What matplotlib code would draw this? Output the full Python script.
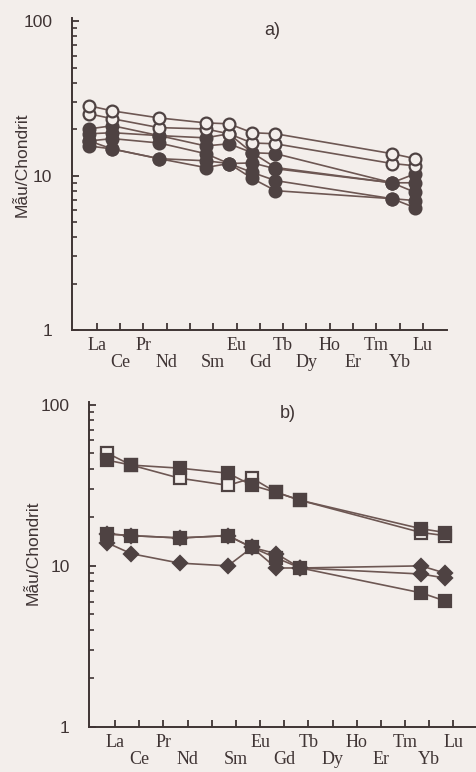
import numpy as np
import matplotlib
matplotlib.use("Agg")
import matplotlib.pyplot as plt
from matplotlib.ticker import NullFormatter, FixedLocator

# REE order (Pm kept as an unlabeled slot)
elements = ['La', 'Ce', 'Pr', 'Nd', 'Pm', 'Sm', 'Eu', 'Gd', 'Tb', 'Dy', 'Ho', 'Er', 'Tm', 'Yb', 'Lu']
measured = ['La', 'Ce', 'Nd', 'Sm', 'Eu', 'Gd', 'Tb', 'Yb', 'Lu']

# a) samples normalised to chondrite
a_open1 = [28.4, 26.3, 23.7, 22.0, 21.7, 19.0, 18.7, 13.9, 12.9]
a_open2 = [25.2, 23.4, 20.5, 20.1, 18.7, 16.3, 16.1, 12.0, 11.6]
a_fill1 = [20.1, 21.1, 18.2, 17.6, 18.7, 14.1, 13.9, 9.0, 10.3]
a_fill2 = [18.7, 19.0, 18.2, 15.6, 16.1, 14.1, 11.3, 9.0, 9.0]
a_fill3 = [16.8, 17.4, 16.3, 13.9, 12.0, 12.1, 11.1, 9.0, 7.8]
a_fill4 = [15.6, 14.9, 12.9, 12.5, 12.0, 10.5, 9.3, 7.1, 6.9]
a_fill5 = [16.8, 14.9, 12.9, 11.3, 12.0, 9.6, 8.0, 7.1, 6.2]

# b) samples normalised to chondrite
b_open = [50.1, 42.2, 35.0, 31.6, 35.0, 28.6, 25.5, 16.1, 15.4]
b_sq1 = [45.3, 42.2, 40.4, 37.6, 31.6, 28.6, 25.5, 17.0, 16.1]
b_dia2 = [15.8, 15.4, 14.9, 15.4, 13.0, 11.9, 9.7, 10.0, 9.0]
b_sq2 = [15.8, 15.4, 14.9, 15.4, 13.0, 11.2, 9.7, 6.8, 6.05]
b_dia1 = [13.9, 11.9, 10.4, 10.0, 13.0, 9.7, 9.7, 8.9, 8.4]

paper = '#f3eeeb'
ink = '#3f3434'
mk = '#4e4242'
ln = '#6d5753'

xpos = np.array([elements.index(e) for e in measured]) - 0.33

plt.rcParams['font.family'] = ['Liberation Sans', 'DejaVu Sans']

fig = plt.figure(figsize=(4.76, 7.72), dpi=100, facecolor=paper)
ax1 = fig.add_axes([0.151, 0.5725, 0.788, 0.404])
ax2 = fig.add_axes([0.187, 0.0583, 0.813, 0.421])


def style(ax, xlim, ylim):
    ax.set_facecolor(paper)
    ax.set_yscale('log')
    ax.set_xlim(*xlim)
    ax.set_ylim(*ylim)
    for s in ['top', 'right']:
        ax.spines[s].set_visible(False)
    for s in ['left', 'bottom']:
        ax.spines[s].set_linewidth(1.4)
        ax.spines[s].set_color(ink)
    ax.set_yticks([1, 10, 100])
    ax.set_yticklabels(['1', '10', '100'])
    ax.yaxis.set_minor_formatter(NullFormatter())
    ax.tick_params(axis='y', which='major', direction='in', length=5, width=1.3,
                   colors=ink, labelsize=12.5, pad=14)
    ax.tick_params(axis='y', which='minor', direction='in', length=3.5, width=1.2, colors=ink)
    ax.xaxis.set_major_locator(FixedLocator(range(len(elements))))
    labs = []
    for i, e in enumerate(elements):
        if e == 'Pm':
            labs.append('')
        elif i % 2 == 0:
            labs.append(e + '\n ')
        else:
            labs.append(' \n' + e)
    ax.set_xticklabels(labs)
    ax.tick_params(axis='x', direction='in', length=5, width=1.3, colors=ink,
                   labelsize=13, pad=5)
    for t in ax.get_xticklabels():
        t.set_family(['Liberation Serif', 'DejaVu Serif'])
        t.set_linespacing(1.0)
    ax.set_ylabel('Mẫu/Chondrit', fontsize=12.5, color=ink)


style(ax1, (-1.07, 15.03), (1, 105))
style(ax2, (-1.08, 14.94), (1, 104))
ax1.yaxis.set_label_coords(-0.112, 0.53)
ax2.yaxis.set_label_coords(-0.124, 0.535)

kw = dict(color=ln, lw=1.2, markeredgecolor=mk, markeredgewidth=1.6)

# panel a
for vals in [a_fill5, a_fill4, a_fill3, a_fill2, a_fill1]:
    ax1.plot(xpos, vals, marker='o', ms=8.5, markerfacecolor=mk, **kw)
for vals in [a_open2, a_open1]:
    ax1.plot(xpos, vals, marker='o', ms=8.5, markerfacecolor=paper, **kw)

# panel b
ax2.plot(xpos, b_dia2, marker='D', ms=7, markerfacecolor=mk, **kw)
ax2.plot(xpos, b_dia1, marker='D', ms=7, markerfacecolor=mk, **kw)
ax2.plot(xpos, b_sq2, marker='s', ms=9, markerfacecolor=mk, **kw)
ax2.plot(xpos, b_open, marker='s', ms=9, markerfacecolor=paper, **kw)
ax2.plot(xpos, b_sq1, marker='s', ms=9, markerfacecolor=mk, **kw)

fig.text(0.571, 0.961, 'a)', fontsize=13, color=ink, ha='center', va='center')
fig.text(0.605, 0.465, 'b)', fontsize=13, color=ink, ha='center', va='center')

fig.savefig('out.png', dpi=100, facecolor=paper)
